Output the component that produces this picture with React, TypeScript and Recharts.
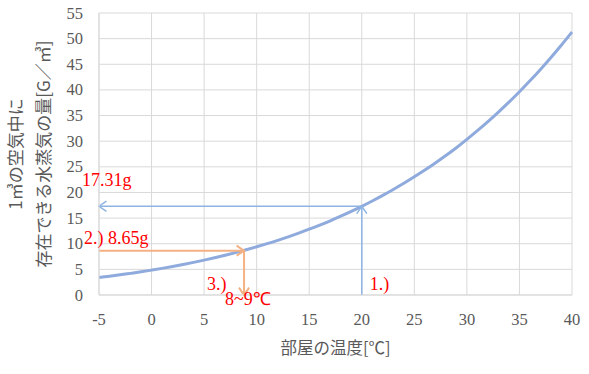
import React from "react"
import { LineChart, Line, XAxis, YAxis, CartesianGrid, ReferenceLine, ReferenceDot } from "recharts"

// saturated water vapour per m³ at each room temperature
const temps = [-5, -4, -3, -2, -1, 0, 1, 2, 3, 4, 5, 6, 7, 8, 9, 10, 11, 12, 13, 14, 15, 16, 17, 18, 19, 20, 21, 22, 23, 24, 25, 26, 27, 28, 29, 30, 31, 32, 33, 34, 35, 36, 37, 38, 39, 40]
const vapour = [3.4, 3.66, 3.93, 4.22, 4.52, 4.85, 5.19, 5.56, 5.95, 6.36, 6.8, 7.26, 7.75, 8.27, 8.82, 9.4, 10.01, 10.66, 11.35, 12.07, 12.83, 13.63, 14.48, 15.37, 16.31, 17.3, 18.34, 19.43, 20.58, 21.78, 23.05, 24.37, 25.76, 27.21, 28.73, 30.35, 32.04, 33.81, 35.67, 37.61, 39.65, 41.78, 44.0, 46.33, 48.76, 51.3]
const xTicks = [-5, 0, 5, 10, 15, 20, 25, 30, 35, 40]
const yTicks = [0, 5, 10, 15, 20, 25, 30, 35, 40, 45, 50, 55]

const roomTemp = 20
const atRoomTemp = 17.31
const atHalf = 8.65
const dewPoint = 8.8

const data = temps.map((t, i) => ({ t, v: vapour[i] }))

const BLUE = "#8eb4e3"
const ORANGE = "#f4b183"
const GREY = "#595959"
const serif = "'Liberation Serif', 'Times New Roman', Times, serif"
const jp = "Noto Sans CJK JP"

function arrow(color: string, width: number) {
  return (p: any) => {
    const { x1, y1, x2, y2 } = p
    const a = Math.atan2(y2 - y1, x2 - x1)
    const len = 9
    const spread = 0.6
    const ax = x2 - len * Math.cos(a - spread)
    const ay = y2 - len * Math.sin(a - spread)
    const bx = x2 - len * Math.cos(a + spread)
    const by = y2 - len * Math.sin(a + spread)
    return (
      <g>
        <line x1={x1} y1={y1} x2={x2} y2={y2} stroke={color} strokeWidth={width} />
        <polyline points={`${ax},${ay} ${x2},${y2} ${bx},${by}`} fill="none" stroke={color} strokeWidth={width} />
      </g>
    )
  }
}

function note(text: string, dx: number, dy: number) {
  return (p: any) => (
    <text x={p.cx + dx} y={p.cy + dy} fill="#ff0000" fontFamily={serif} style={{ fontSize: 18, fontFamily: serif }}>
      {text}
    </text>
  )
}

const XTick = (p: any) => (
  <text x={p.x} y={p.y} dy={16} textAnchor="middle" fill={GREY} fontFamily={serif} style={{ fontSize: 16.5, fontFamily: serif }}>
    {p.payload.value}
  </text>
)

const YTick = (p: any) => (
  <text x={p.x} y={p.y} dy={5.5} textAnchor="end" fill={GREY} fontFamily={serif} style={{ fontSize: 16.5, fontFamily: serif }}>
    {p.payload.value}
  </text>
)

const YTitle = (p: any) => {
  const vb = p.viewBox
  const cy = vb.y + vb.height / 2
  return (
    <g fill={GREY} style={{ fontSize: 17, fontFamily: jp }} textAnchor="middle">
      <text transform={`translate(22, ${cy}) rotate(-90)`}>1㎥の空気中に</text>
      <text transform={`translate(50, ${cy}) rotate(-90)`}>存在できる水蒸気の量[G／㎥]</text>
    </g>
  )
}

const XTitle = (p: any) => {
  const vb = p.viewBox
  return (
    <text x={vb.x + vb.width / 2} y={354} fill={GREY} style={{ fontSize: 16.5, fontFamily: jp }} textAnchor="middle">
      部屋の温度[℃]
    </text>
  )
}

export default function App() {
  return (
    <div style={{ position: "absolute", left: 0, top: 0, background: "#fff" }}>
      <LineChart width={589} height={374} data={data} margin={{ top: 13, right: 17, bottom: 19, left: 0 }}>
        <CartesianGrid stroke="#d9d9d9" />
        <XAxis
          type="number"
          dataKey="t"
          domain={[-5, 40]}
          ticks={xTicks}
          height={60}
          tickLine={false}
          axisLine={{ stroke: "#d9d9d9" }}
          tickMargin={8}
          tick={XTick}
          label={{ content: XTitle }}
        />
        <YAxis
          type="number"
          domain={[0, 55]}
          ticks={yTicks}
          width={99}
          tickLine={false}
          axisLine={{ stroke: "#d9d9d9" }}
          tickMargin={10}
          tick={YTick}
          label={{ content: YTitle }}
        />
        <Line type="natural" dataKey="v" stroke="#8faadc" strokeWidth={3} dot={false} isAnimationActive={false} />
        <ReferenceLine segment={[{ x: roomTemp, y: 0 }, { x: roomTemp, y: atRoomTemp }]} shape={arrow(BLUE, 1.5)} ifOverflow="visible" />
        <ReferenceLine segment={[{ x: roomTemp, y: atRoomTemp }, { x: -5, y: atRoomTemp }]} shape={arrow(BLUE, 1.5)} ifOverflow="visible" />
        <ReferenceLine segment={[{ x: -5, y: atHalf }, { x: dewPoint, y: atHalf }]} shape={arrow(ORANGE, 2)} ifOverflow="visible" />
        <ReferenceLine segment={[{ x: dewPoint, y: atHalf }, { x: dewPoint, y: 0 }]} shape={arrow(ORANGE, 2)} ifOverflow="visible" />
        <ReferenceDot x={-5} y={atRoomTemp} shape={note("17.31g", -17, -20)} ifOverflow="visible" />
        <ReferenceDot x={-5} y={atHalf} shape={note("2.) 8.65g", -15, -7)} ifOverflow="visible" />
        <ReferenceDot x={dewPoint} y={0} shape={note("3.)", -37, -5)} ifOverflow="visible" />
        <ReferenceDot x={dewPoint} y={0} shape={note("8~9℃", -19, 10)} ifOverflow="visible" />
        <ReferenceDot x={roomTemp} y={0} shape={note("1.)", 8, -5)} ifOverflow="visible" />
      </LineChart>
    </div>
  )
}
